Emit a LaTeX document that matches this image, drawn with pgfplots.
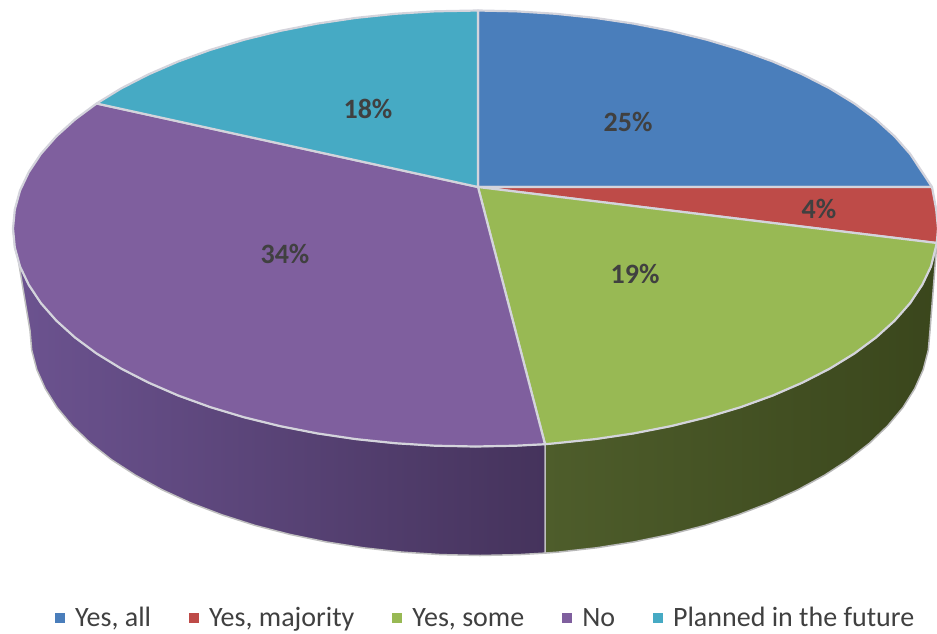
\documentclass[border=0pt]{standalone}
\usepackage{fontspec}
\setmainfont{Carlito}
\usepackage{pgfplots}
\pgfplotsset{compat=1.18}
\definecolor{cblue}{HTML}{4A7EBB}
\definecolor{cred}{HTML}{BE4B48}
\definecolor{cgreen}{HTML}{98B954}
\definecolor{cpurple}{HTML}{7F5F9E}
\definecolor{cteal}{HTML}{46AAC4}
\definecolor{rim}{HTML}{D4D4DC}
\definecolor{lab}{HTML}{404040}
\definecolor{gl}{HTML}{4E5D2B}
\definecolor{gr}{HTML}{3A461C}
\definecolor{pl}{HTML}{6C5390}
\definecolor{pr}{HTML}{45335C}
\begin{document}
\begin{tikzpicture}
\useasboundingbox (0,0) rectangle (937pt,633pt);
\begin{axis}[
  scale only axis, width=937pt, height=633pt,
  xmin=0, xmax=937, ymin=0, ymax=633, y dir=reverse,
  hide axis, clip=true,
  legend columns=-1,
  legend cell align=left,
  legend image code/.code={\path[#1,draw=none] (0pt,-5pt) rectangle (10pt,5pt);},
  legend style={draw=none, fill=none, at={(axis cs:55,618)}, anchor=west,
    font=\fontsize{28}{30}\selectfont, text=lab, inner sep=0pt, outer sep=0pt,
    /tikz/every odd column/.append style={column sep=8pt},
    /tikz/every even column/.append style={column sep=36pt}},
  every axis plot/.append style={line join=round},
]
% sides
\addplot[forget plot, draw=black!28, line width=1.5pt, left color=gl, right color=gr] coordinates {
(545,444.2)(555.8,443.2)(595.2,439.1)(633.7,433.4)(671.0,426.1)(706.8,417.3)(740.8,407.1)(772.8,395.5)(802.5,382.6)(829.8,368.6)(854.4,353.5)(876.0,337.5)(894.7,320.6)(910.1,303.1)(922.2,284.9)(931.0,266.4)(936.2,247.5)(938,228.5)
(930,330.5)(928.3,350.1)(923.2,369.6)(914.7,388.7)(902.9,407.5)(887.8,425.6)(869.7,443)(848.6,459.6)(824.7,475.1)(798.2,489.6)(769.3,502.9)(738.1,514.8)(705,525.4)(670.2,534.4)(633.9,541.9)(596.5,547.8)(558.1,552.1)(545,553.1)(545,444.2)};
\addplot[forget plot, draw=black!25, line width=1.5pt, left color=pl, right color=pr] coordinates {
(13,228.5)(14.8,247.5)(20.0,266.4)(28.8,284.9)(40.9,303.1)(56.3,320.6)(75.0,337.5)(96.6,353.5)(121.2,368.6)(148.5,382.6)(178.2,395.5)(210.2,407.1)(244.2,417.3)(280.0,426.1)(317.3,433.4)(355.8,439.1)(395.2,443.2)(435.2,445.7)(475.5,446.5)(515.8,445.7)(545,444.2)
(545,553.1)(519.2,554.6)(480,555.5)(440.8,554.6)(401.9,552.1)(363.5,547.8)(326.1,541.9)(289.8,534.4)(255,525.4)(221.9,514.8)(190.7,502.9)(161.8,489.6)(135.3,475.1)(111.4,459.6)(90.3,443)(72.2,425.6)(57.1,407.5)(45.3,388.7)(36.8,369.6)(31.7,350.1)(30,330.5)(13,228.5)};
% top sectors
\addplot[fill=cblue, draw=rim, line width=2.2pt] coordinates {
(478,187)(478,10.5)(515.8,11.3)(555.8,13.8)(595.2,17.9)(633.7,23.6)(671.0,30.9)(706.8,39.7)(740.8,49.9)(772.8,61.5)(802.5,74.4)(829.8,88.4)(854.4,103.5)(876.0,119.5)(894.7,136.4)(910.1,153.9)(922.2,172.1)(932,187)(478,187)};
\addlegendentry{Yes, all}
\addplot[fill=cred, draw=rim, line width=2.2pt] coordinates {
(478,187)(932,187)(936.2,209.5)(938,228.5)(936.8,243)(478,187)};
\addlegendentry{Yes, majority}
\addplot[fill=cgreen, draw=rim, line width=2.2pt] coordinates {
(478,187)(936.8,243)(931.0,266.4)(922.2,284.9)(910.1,303.1)(894.7,320.6)(876.0,337.5)(854.4,353.5)(829.8,368.6)(802.5,382.6)(772.8,395.5)(740.8,407.1)(706.8,417.3)(671.0,426.1)(633.7,433.4)(595.2,439.1)(555.8,443.2)(545,444.2)(478,187)};
\addlegendentry{Yes, some}
\addplot[fill=cpurple, draw=rim, line width=2.2pt] coordinates {
(478,187)(545,444.2)(515.8,445.7)(475.5,446.5)(435.2,445.7)(395.2,443.2)(355.8,439.1)(317.3,433.4)(280.0,426.1)(244.2,417.3)(210.2,407.1)(178.2,395.5)(148.5,382.6)(121.2,368.6)(96.6,353.5)(75.0,337.5)(56.3,320.6)(40.9,303.1)(28.8,284.9)(20.0,266.4)(14.8,247.5)(13.0,228.5)(14.8,209.5)(20.0,190.6)(28.8,172.1)(40.9,153.9)(56.3,136.4)(75.0,119.5)(96.6,103.5)(478,187)};
\addlegendentry{No}
\addplot[fill=cteal, draw=rim, line width=2.2pt] coordinates {
(478,187)(96.6,103.5)(121.2,88.4)(148.5,74.4)(178.2,61.5)(210.2,49.9)(244.2,39.7)(280.0,30.9)(317.3,23.6)(355.8,17.9)(395.2,13.8)(435.2,11.3)(478,10.5)(478,187)};
\addlegendentry{Planned in the future}
% labels
\begin{scope}[every node/.style={font=\fontsize{28}{30}\selectfont\bfseries, text=lab}]
\node at (axis cs:628,122) {25\%};
\node at (axis cs:819,209) {4\%};
\node at (axis cs:635,274) {19\%};
\node at (axis cs:285,254) {34\%};
\node at (axis cs:368,109) {18\%};
\end{scope}
\end{axis}
\end{tikzpicture}
\end{document}
